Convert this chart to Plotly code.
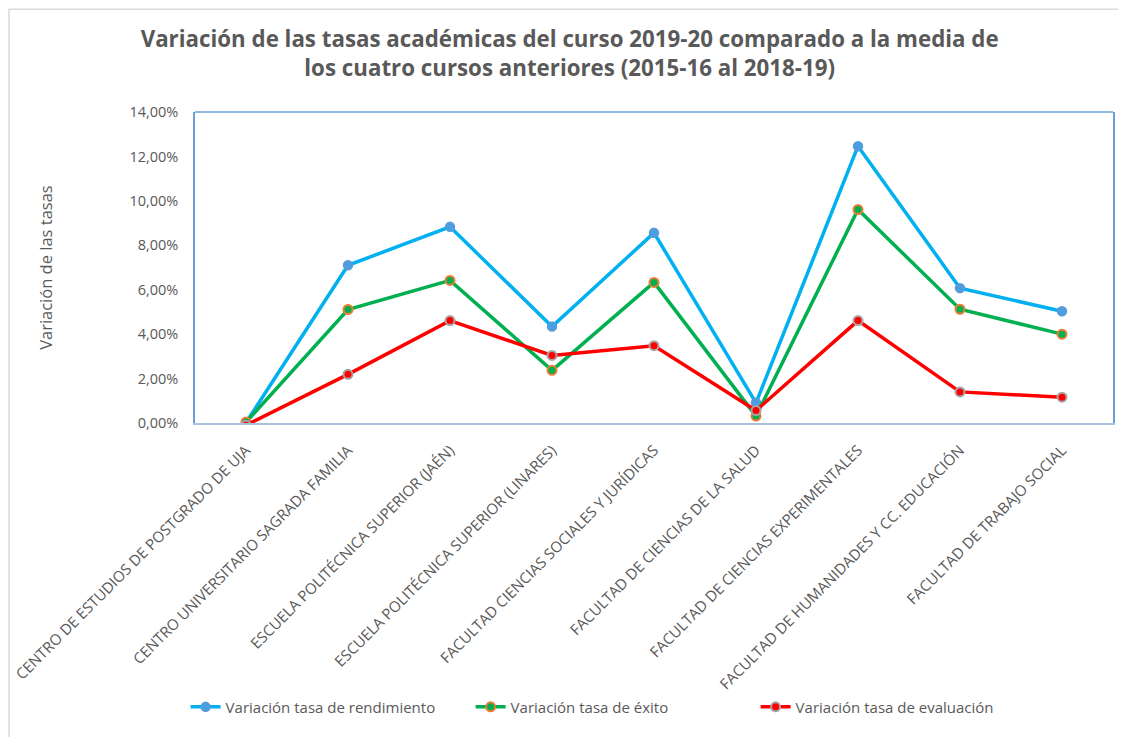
import plotly.graph_objects as go

categories = [
    "CENTRO DE ESTUDIOS DE POSTGRADO DE UJA",
    "CENTRO UNIVERSITARIO SAGRADA FAMILIA",
    "ESCUELA POLITÉCNICA SUPERIOR (JAÉN)",
    "ESCUELA POLITÉCNICA SUPERIOR (LINARES)",
    "FACULTAD CIENCIAS SOCIALES Y JURÍDICAS",
    "FACULTAD DE CIENCIAS DE LA SALUD",
    "FACULTAD DE CIENCIAS EXPERIMENTALES",
    "FACULTAD DE HUMANIDADES Y CC. EDUCACIÓN",
    "FACULTAD DE TRABAJO SOCIAL",
]
rendimiento = [0.02, 7.10, 8.83, 4.34, 8.56, 0.91, 12.46, 6.07, 5.03]
exito = [0.04, 5.11, 6.42, 2.37, 6.33, 0.31, 9.61, 5.12, 4.00]
evaluacion = [-0.10, 2.19, 4.61, 3.04, 3.48, 0.56, 4.61, 1.40, 1.16]
series_names = [
    "Variación tasa de rendimiento",
    "Variación tasa de éxito",
    "Variación tasa de evaluación",
]
tick_vals = [0, 2, 4, 6, 8, 10, 12, 14]
tick_text = ["0,00%", "2,00%", "4,00%", "6,00%", "8,00%", "10,00%", "12,00%", "14,00%"]

FONT = "Open Sans"
GREY = "#595959"

fig = go.Figure()
fig.add_trace(go.Scatter(
    x=categories, y=rendimiento, name=series_names[0], mode="lines+markers",
    line=dict(color="#00B0F0", width=3.5),
    marker=dict(size=9, color="#4A9FE3", line=dict(color="#5B9BD5", width=1.5)),
))
fig.add_trace(go.Scatter(
    x=categories, y=exito, name=series_names[1], mode="lines+markers",
    line=dict(color="#00B050", width=3.5),
    marker=dict(size=9, color="#00B050", line=dict(color="#ED7D31", width=2)),
))
fig.add_trace(go.Scatter(
    x=categories, y=evaluacion, name=series_names[2], mode="lines+markers",
    line=dict(color="#FF0000", width=3.5),
    marker=dict(size=9, color="#FF0000", line=dict(color="#A5A5A5", width=2)),
))

fig.update_layout(
    width=1110, height=729,
    margin=dict(l=187, r=5, t=104, b=313.5, autoexpand=False),
    paper_bgcolor="white", plot_bgcolor="white",
    font=dict(family=FONT, color=GREY, size=13),
    title=dict(
        text="<b>Variación de las tasas académicas del curso 2019-20 comparado a la media de<br>los cuatro cursos anteriores (2015-16 al 2018-19)</b>",
        x=0.506, xanchor="center", xref="container",
        y=0.946, yanchor="top", yref="container",
        font=dict(family=FONT, size=22.3, color=GREY),
    ),
    xaxis=dict(
        type="category", tickangle=-45, showgrid=False, automargin=False,
        showline=True, linecolor="#A9C0DD", linewidth=1.5,
        ticks="", ticklabelstandoff=11,
        tickfont=dict(family=FONT, size=15, color=GREY),
        range=[-0.5, 8.5],
    ),
    yaxis=dict(
        range=[0, 14], tickvals=tick_vals, ticktext=tick_text,
        showgrid=False, zeroline=False, showline=True, mirror=True,
        linecolor="#6A9FD8", linewidth=1.5, ticks="", automargin=False,
        ticklabelstandoff=12,
        tickfont=dict(family=FONT, size=14.5, color=GREY),
    ),
    legend=dict(
        orientation="h", xref="container", x=0.16, xanchor="left",
        yref="container", y=0.041, yanchor="middle",
        entrywidth=240, entrywidthmode="pixels",
        bgcolor="rgba(0,0,0,0)",
        font=dict(family=FONT, size=15, color=GREY),
    ),
    showlegend=True,
)

fig.add_shape(type="line", xref="paper", yref="paper", x0=0, x1=1, y0=1, y1=1,
              line=dict(color="#6A9FD8", width=1.5))
fig.add_shape(type="rect", xref="paper", yref="paper",
              x0=-0.2026, x1=1.05, y0=-1.6, y1=1.3307,
              line=dict(color="#D9D9D9", width=1.5), layer="below")

fig.add_annotation(
    text="Variación de las tasas", textangle=-90,
    xref="paper", yref="paper", x=-0.163, y=0.5,
    xanchor="center", yanchor="middle", showarrow=False,
    font=dict(family=FONT, size=16.5, color=GREY),
)

fig.write_html("out.html")
